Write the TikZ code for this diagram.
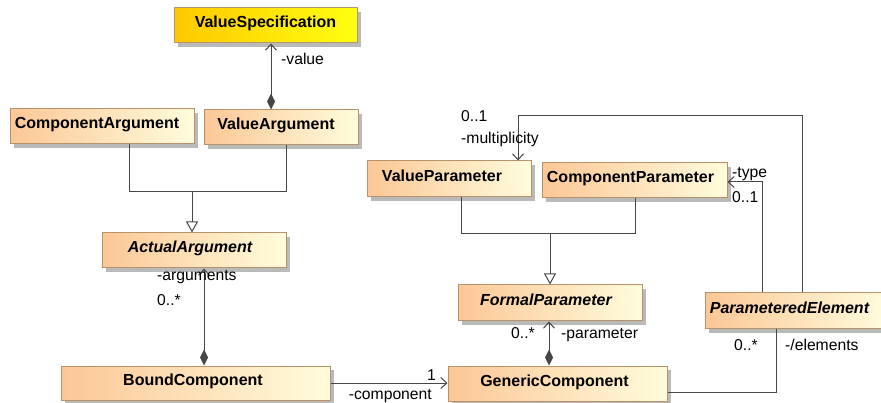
\documentclass[tikz,border=0pt]{standalone}
\usepackage{fontspec}
\setmainfont{Liberation Sans}
\usetikzlibrary{arrows.meta,shadows,calc}
\definecolor{boxL}{HTML}{FCC796}
\definecolor{boxR}{HTML}{FFFCDC}
\definecolor{specL}{HTML}{FFC800}
\definecolor{specR}{HTML}{FFFF10}
\definecolor{bord}{HTML}{B8926A}
\definecolor{ln}{HTML}{474747}
\tikzset{
  cls/.style={draw=bord, line width=1pt, left color=boxL, right color=boxR,
    font=\fontsize{16}{18}\selectfont\bfseries, text height=12pt, text depth=7pt,
    inner sep=0pt, general shadow={fill=black!27, shadow xshift=4pt, shadow yshift=-4pt}},
  abscls/.style={cls, font=\fontsize{16}{18}\selectfont\bfseries\itshape},
  speccls/.style={cls, left color=specL, right color=specR},
  lbl/.style={font=\fontsize{15.7}{18}\selectfont, inner sep=0pt, anchor=base west},
  conn/.style={draw=ln, line width=1pt},
  navi/.style={conn, -{Straight Barb[length=6pt,width=11pt,line width=1pt]}},
  compo/.style={conn, {Diamond[length=16pt,width=8pt,fill=ln]}-{Straight Barb[length=6pt,width=11pt,line width=1pt]}},
  gen/.style={conn, -{Triangle[open,length=11pt,width=12pt,fill=white,line width=1pt]}}
}
\begin{document}
\begin{tikzpicture}[x=1pt,y=-1pt]
\useasboundingbox (0,0) rectangle (881,403);
% classes
\node[speccls, minimum width=183pt, minimum height=35pt] (VS) at (265.5,25.5) {ValueSpecification};
\node[cls, minimum width=184pt, minimum height=35pt] (CA) at (102,126.5) {\hspace*{-10pt}ComponentArgument};
\node[cls, minimum width=154pt, minimum height=35pt] (VA) at (281,127.5) {\hspace*{-10pt}ValueArgument};
\node[abscls, minimum width=184pt, minimum height=35pt] (AA) at (194,250.5) {\hspace*{-8pt}ActualArgument};
\node[cls, minimum width=269pt, minimum height=34pt] (BC) at (195.5,383) {\hspace*{-5pt}BoundComponent};
\node[cls, minimum width=164pt, minimum height=36pt] (VP) at (449,179) {\hspace*{-14pt}ValueParameter};
\node[cls, minimum width=185pt, minimum height=35pt] (CP) at (634.5,180.5) {\hspace*{-8pt}ComponentParameter};
\node[abscls, minimum width=184pt, minimum height=36pt] (FP) at (550,303) {\hspace*{-8pt}FormalParameter};
\node[cls, minimum width=219pt, minimum height=35pt] (GC) at (557.5,383.5) {\hspace*{-6pt}GenericComponent};
\node[abscls, minimum width=179pt, minimum height=36pt] (PE) at (794.5,311) {\hspace*{-10pt}ParameteredElement};
% value
\draw[compo] ([xshift=-10pt]VA.north) -- ([xshift=-10pt]VA.north |- VS.south);
\node[lbl] (lv) at (281,65) {-value};
% generalization arguments
\coordinate (g1) at (192,192);
\draw[conn] ([xshift=27pt]CA.south) |- (g1);
\draw[conn] ([xshift=5pt]VA.south) |- (g1);
\draw[gen] (g1) -- (g1 |- AA.north);
% arguments
\draw[compo] ([xshift=8.5pt]BC.north) -- ([xshift=8.5pt]BC.north |- AA.south);
\node[lbl] (la1) at (157,281) {-arguments};
\node[lbl] (la2) at (157,306) {0..*};
% component
\draw[navi] (BC.east) -- (BC.east -| GC.west);
\node[lbl, anchor=base east] (lc1) at (436,380) {1};
\node[lbl, anchor=base east] (lc2) at (432,399) {-component};
% parameter
\draw[compo] ([xshift=-8.5pt]GC.north) -- ([xshift=-8.5pt]GC.north |- FP.south);
\node[lbl, anchor=base east] (lp1) at (535,339) {0..*};
\node[lbl] (lp2) at (561,339) {-parameter};
% generalization parameters
\coordinate (g2) at (550,234);
\draw[conn] ([xshift=12pt]VP.south) |- (g2);
\draw[conn] ([xshift=0.5pt]CP.south) |- (g2);
\draw[gen] (g2) -- (g2 |- FP.north);
% elements
\coordinate (e1) at (776,392);
\draw[conn] (GC.east |- e1) -- (e1) -- (e1 |- PE.south);
\node[lbl, anchor=base east] (le1) at (758,351) {0..*};
\node[lbl] (le2) at (785,351) {-/elements};
% type
\coordinate (t1) at (762,182);
\draw[navi] (t1 |- PE.north) -- (t1) -- (t1 -| CP.east);
\node[lbl] (lt1) at (732,178) {-type};
\node[lbl] (lt2) at (732,203) {0..1};
% multiplicity
\coordinate (m1) at (802,116);
\coordinate (m2) at (518,116);
\draw[navi] (m1 |- PE.north) -- (m1) -- (m2) -- (m2 |- VP.north);
\node[lbl] (lm1) at (461,122) {0..1};
\node[lbl] (lm2) at (461,144) {-multiplicity};
\end{tikzpicture}
\end{document}
